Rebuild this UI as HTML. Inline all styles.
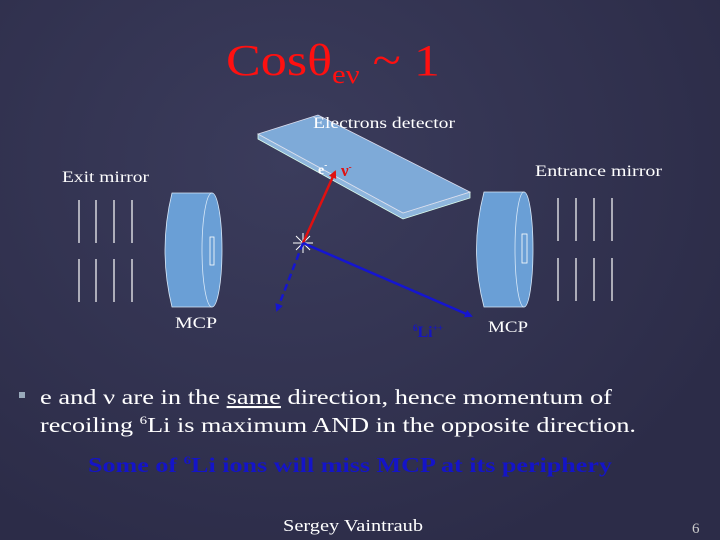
<!DOCTYPE html>
<html><head><meta charset="utf-8"><style>
body{margin:0;width:720px;height:540px;overflow:hidden;background:radial-gradient(ellipse at 40% 30%,#3b3c5c,#2c2c48 80%);font-family:"Liberation Serif",serif;}
svg{position:absolute;left:0;top:0}
</style></head><body>
<svg width="720" height="540" viewBox="0 0 720 540">
<defs>
<marker id="ar" markerWidth="8" markerHeight="8" refX="6" refY="4" orient="auto" markerUnits="userSpaceOnUse"><path d="M0,0 L8,4 L0,8z" fill="#e01010"/></marker>
<marker id="ab" markerWidth="8" markerHeight="8" refX="6" refY="4" orient="auto" markerUnits="userSpaceOnUse"><path d="M0,0 L8,4 L0,8z" fill="#1515d0"/></marker>
</defs>
<text x="226" y="75" font-size="44" fill="#ff1010" textLength="214" lengthAdjust="spacingAndGlyphs">Cosθ<tspan font-size="26" dy="8">eν</tspan><tspan dy="-8"> ~ 1</tspan></text>
<polygon points="258,134 258,139 403,219 470,198 470,192 403,213" fill="#8fb6dd" stroke="#dfe" stroke-width="0.8"/>
<polygon points="258,134 318,115 470,192 403,213" fill="#7eaad8" stroke="#dde" stroke-width="0.8"/>
<text x="313" y="128" font-size="16" fill="#fff" textLength="142" lengthAdjust="spacingAndGlyphs">Electrons detector</text>
<text x="318" y="174" font-size="14" font-weight="bold" fill="#fff">e<tspan font-size="9" dy="-6">-</tspan></text>
<text x="341" y="176" font-size="17" font-weight="bold" fill="#e01010">ν<tspan font-size="9" dy="-6">-</tspan></text>
<text x="62" y="182" font-size="16" fill="#fff" textLength="87" lengthAdjust="spacingAndGlyphs">Exit mirror</text>
<text x="535" y="176" font-size="16" fill="#fff" textLength="127" lengthAdjust="spacingAndGlyphs">Entrance mirror</text>
<g stroke="#fff" stroke-width="1.2">
<line x1="79" y1="200" x2="79" y2="243"/><line x1="96" y1="200" x2="96" y2="243"/><line x1="114" y1="200" x2="114" y2="243"/><line x1="132" y1="200" x2="132" y2="243"/>
<line x1="79" y1="259" x2="79" y2="302"/><line x1="96" y1="259" x2="96" y2="302"/><line x1="114" y1="259" x2="114" y2="302"/><line x1="132" y1="259" x2="132" y2="302"/>
<line x1="558" y1="198" x2="558" y2="241"/><line x1="576" y1="198" x2="576" y2="241"/><line x1="594" y1="198" x2="594" y2="241"/><line x1="612" y1="198" x2="612" y2="241"/>
<line x1="558" y1="258" x2="558" y2="301"/><line x1="576" y1="258" x2="576" y2="301"/><line x1="594" y1="258" x2="594" y2="301"/><line x1="612" y1="258" x2="612" y2="301"/>
</g>
<g fill="#6a9fd6" stroke="#d8e8f8" stroke-width="0.8">
<path d="M172,193 L212,193 L212,307 L172,307 Q158,250 172,193z"/>
<ellipse cx="212" cy="250" rx="10" ry="57"/>
<rect x="210" y="237" width="4" height="28" fill="none" stroke="#fff"/>
<path d="M484,192 L524,192 L524,307 L484,307 Q469,250 484,192z"/>
<ellipse cx="524" cy="249.5" rx="9" ry="57.5"/>
<rect x="522" y="234" width="5" height="29" fill="none" stroke="#fff"/>
</g>
<text x="175" y="328" font-size="16" fill="#fff" textLength="42" lengthAdjust="spacingAndGlyphs">MCP</text>
<text x="488" y="332" font-size="16" fill="#fff" textLength="40" lengthAdjust="spacingAndGlyphs">MCP</text>
<text x="413" y="337" font-size="16" font-weight="bold" fill="#1515c0"><tspan font-size="9" dy="-6">6</tspan><tspan dy="6">Li</tspan><tspan font-size="9" dy="-6">++</tspan></text>
<g stroke="#fff" stroke-width="1"><line x1="293" y1="243" x2="313" y2="243"/><line x1="303" y1="233" x2="303" y2="253"/><line x1="296" y1="236" x2="310" y2="250"/><line x1="310" y1="236" x2="296" y2="250"/></g>
<line x1="303" y1="243" x2="335" y2="172" stroke="#e01010" stroke-width="2.5" marker-end="url(#ar)"/>
<line x1="303" y1="243" x2="471" y2="316" stroke="#1515d0" stroke-width="2.5" marker-end="url(#ab)"/>
<line x1="303" y1="243" x2="277" y2="310" stroke="#1515d0" stroke-width="2.5" stroke-dasharray="7,4" marker-end="url(#ab)"/>
<rect x="19" y="392" width="6" height="6" fill="#9ab"/>
<text x="40" y="404" font-size="21" fill="#fff" textLength="572" lengthAdjust="spacingAndGlyphs">e and ν are in the <tspan text-decoration="underline">same</tspan> direction, hence momentum of</text>
<text x="40" y="432" font-size="21" fill="#fff" textLength="596" lengthAdjust="spacingAndGlyphs">recoiling <tspan font-size="12" dy="-8">6</tspan><tspan dy="8">Li is maximum AND in the opposite direction.</tspan></text>
<text x="88" y="472" font-size="21" font-weight="bold" fill="#1414c8" textLength="524" lengthAdjust="spacingAndGlyphs">Some of  <tspan font-size="12" dy="-8">6</tspan><tspan dy="8">Li ions will miss MCP at its periphery</tspan></text>
<text x="283" y="531" font-size="17" fill="#fff" textLength="140" lengthAdjust="spacingAndGlyphs">Sergey Vaintraub</text>
<text x="692" y="533" font-size="15" fill="#ccc">6</text>
</svg>
</body></html>
